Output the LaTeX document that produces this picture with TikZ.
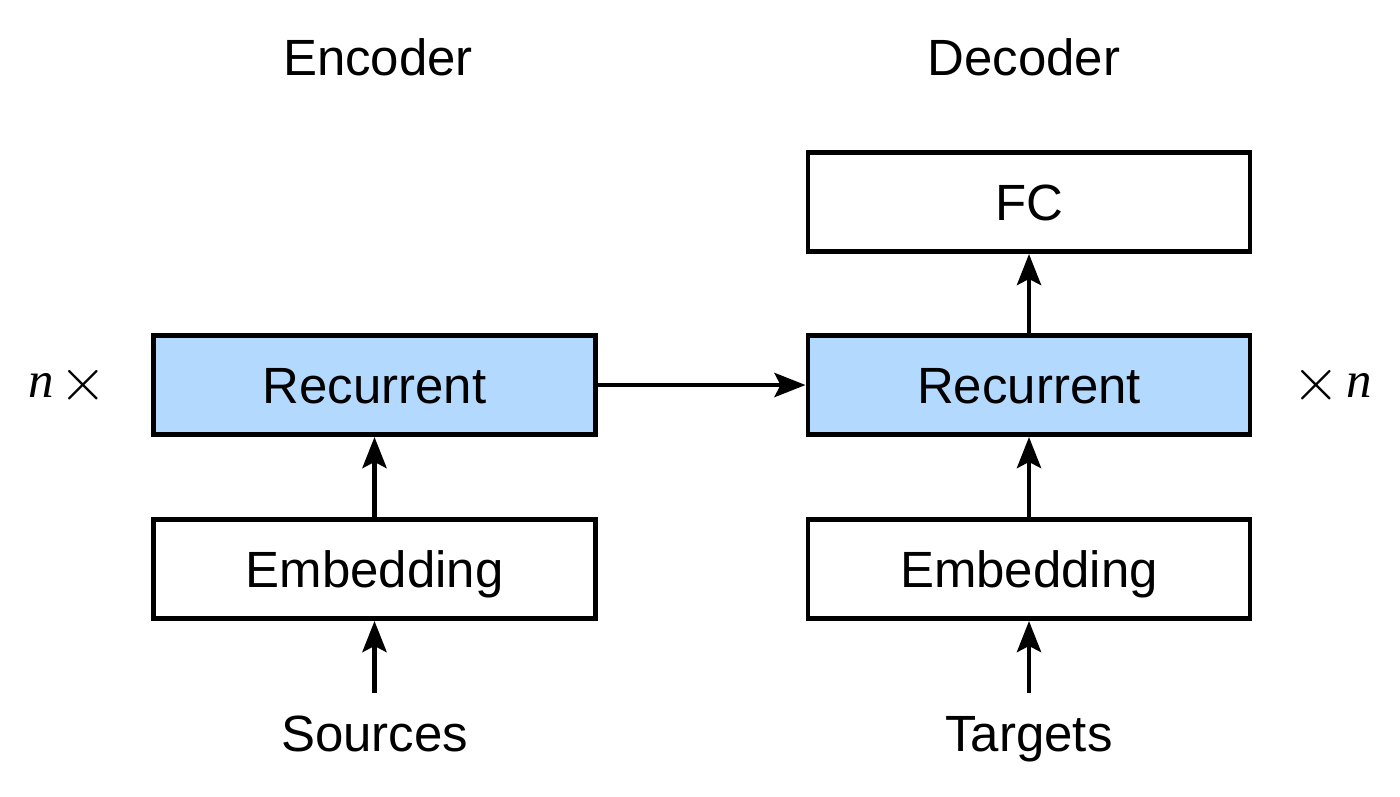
\documentclass[tikz,border=0pt]{standalone}
\usepackage{fontspec}
\setmainfont{Liberation Sans}
\newfontfamily\serifn{Liberation Serif}
\usepackage{tikz}
\usetikzlibrary{arrows.meta}
\definecolor{recblue}{RGB}{179,217,255}
\newcommand{\bigx}{\raisebox{-0.1ex}{\scalebox{1.4}{$\times$}}}
\tikzset{l/.style={font=\fontsize{29}{29}\selectfont}}
\tikzset{blk/.style={l, draw, line width=2.8pt, minimum width=8.84cm, minimum height=1.98cm, inner sep=0pt, text height=21pt, text depth=0pt}}
\tikzset{rec/.style={blk, fill=recblue}}
\tikzset{lbl/.style={l, anchor=base, inner xsep=0pt, inner ysep=12pt, text height=21pt, text depth=0pt}}
\tikzset{flow/.style={line width=2.8pt, -{Stealth[length=0.62cm, width=0.48cm, inset=0.12cm]}}}

\begin{document}
\begin{tikzpicture}
    \useasboundingbox (0,0) rectangle (28,-15.92);
    \node[lbl] (enc) at (7.56,-1.51) {Encoder};
    \node[lbl] (dec) at (20.48,-1.51) {Decoder};
    \node[rec] (encrec) at (7.49,-7.7) {Recurrent};
    \node[blk] (encemb) at (7.49,-11.38) {Embedding};
    \node[blk] (fc) at (20.58,-4.04) {FC};
    \node[rec] (decrec) at (20.58,-7.7) {Recurrent};
    \node[blk] (decemb) at (20.58,-11.38) {Embedding};
    \node[lbl] (src) at (7.49,-15.03) {Sources};
    \node[lbl] (tgt) at (20.58,-15.03) {Targets};
    \node[l] (encn) at (1.36,-7.7) {{\serifn\itshape n}\hspace{0.12em}\bigx};
    \node[l] (decn) at (26.64,-7.7) {\bigx\hspace{0.12em}{\serifn\itshape n}};
    \draw[flow] (src) -- (encemb);
    \draw[flow] (encemb) -- (encrec);
    \draw[flow] (encrec) -- (decrec);
    \draw[flow] (tgt) -- (decemb);
    \draw[flow] (decemb) -- (decrec);
    \draw[flow] (decrec) -- (fc);
  \end{tikzpicture}
\end{document}
